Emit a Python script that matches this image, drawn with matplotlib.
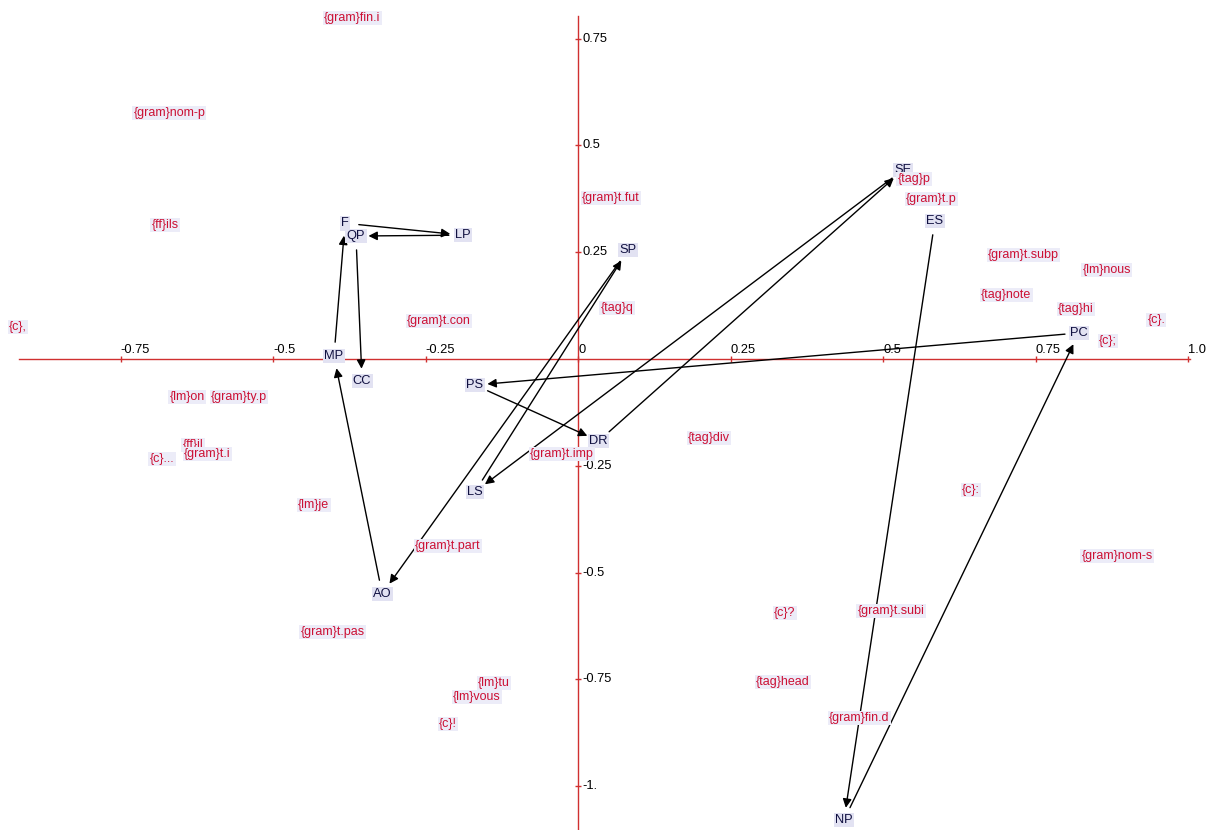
#!/usr/bin/env python3
"""Correspondence-analysis style map: category labels plus a path of arrows."""
import matplotlib
matplotlib.use('Agg')
import matplotlib.pyplot as plt

# trajectory points (navy labels), in path order
path_names = ['ES', 'NP', 'PC', 'PS', 'DR', 'SE', 'LS', 'SP', 'AO', 'MP',
              'F', 'LP', 'QP', 'CC']
path_x = [0.585, 0.436, 0.821, -0.169, 0.034, 0.533, -0.169, 0.082, -0.321,
          -0.400, -0.382, -0.189, -0.364, -0.354]
path_y = [0.323, -1.080, 0.061, -0.061, -0.192, 0.443, -0.311, 0.255, -0.550,
          0.007, 0.318, 0.290, 0.288, -0.052]

# variable labels (red)
var_names = ['{gram}fin.i', '{gram}nom-p', '{ff}ils', '{gram}t.fut', '{tag}p',
             '{gram}t.p', '{gram}t.subp', '{lm}nous', '{c},', '{lm}on',
             '{gram}ty.p', '{ff}il', '{gram}t.i', '{c}...', '{lm}je',
             '{gram}t.con', '{tag}q', '{gram}t.imp', '{tag}div',
             '{gram}t.part', '{tag}note', '{tag}hi', '{c}.', '{c};', '{c}:',
             '{gram}nom-s', '{gram}t.pas', '{lm}tu', '{lm}vous', '{c}!',
             '{c}?', '{gram}t.subi', '{tag}head', '{gram}fin.d']
var_x = [-0.370, -0.670, -0.677, 0.054, 0.551, 0.579, 0.730, 0.867, -0.918,
         -0.641, -0.556, -0.631, -0.608, -0.682, -0.433, -0.228, 0.064,
         -0.026, 0.215, -0.213, 0.702, 0.816, 0.948, 0.869, 0.644, 0.884,
         -0.402, -0.138, -0.166, -0.213, 0.339, 0.513, 0.336, 0.461]
var_y = [0.799, 0.576, 0.314, 0.377, 0.422, 0.375, 0.244, 0.208, 0.075,
         -0.089, -0.089, -0.201, -0.222, -0.234, -0.342, 0.089, 0.119,
         -0.222, -0.185, -0.438, 0.150, 0.117, 0.091, 0.042, -0.307, -0.461,
         -0.639, -0.759, -0.792, -0.855, -0.595, -0.590, -0.756, -0.841]

x_ticks = [-0.75, -0.5, -0.25, 0, 0.25, 0.5, 0.75, 1.0]
x_tick_labels = ['-0.75', '-0.5', '-0.25', '0', '0.25', '0.5', '0.75', '1.0']
y_ticks = [0.75, 0.5, 0.25, -0.25, -0.5, -0.75, -1.0]
y_tick_labels = ['0.75', '0.5', '0.25', '-0.25', '-0.5', '-0.75', '-1.']

axis_red = '#d03030'
var_red = '#cc1034'
navy = '#101040'

plt.rcParams['font.family'] = ['Liberation Sans', 'DejaVu Sans']

fig = plt.figure(figsize=(12.12, 8.30), dpi=100)
ax = fig.add_axes([0, 0, 1, 1])
ax.set_xlim(-578 / 610, (1212 - 578) / 610)
ax.set_ylim((359 - 830) / 427, 359 / 427)
ax.axis('off')

# axes through the origin
ax.plot([-0.916, 1.003], [0, 0], color=axis_red, lw=1, zorder=1)
ax.plot([0, 0], [0.803, -1.11], color=axis_red, lw=1, zorder=1)
ax.plot(x_ticks, [0] * len(x_ticks), '|', color=axis_red, ms=5, zorder=1)
ax.plot([0] * len(y_ticks), y_ticks, '_', color=axis_red, ms=5, zorder=1)
for t, lab in zip(x_ticks, x_tick_labels):
    ax.annotate(lab, (t, 0), xytext=(0, 2), textcoords='offset points',
                ha='left', va='bottom', fontsize=9.3, color='black')
for t, lab in zip(y_ticks, y_tick_labels):
    ax.annotate(lab, (0, t), xytext=(3, 0), textcoords='offset points',
                ha='left', va='center', fontsize=9.3, color='black')

# navy path labels
for name, x, y in zip(path_names, path_x, path_y):
    ax.text(x, y, name, ha='center', va='center', fontsize=9.3, color=navy,
            zorder=3,
            bbox=dict(boxstyle='square,pad=0.1', facecolor='#e2e2f2',
                      edgecolor='none'))

# red variable labels (drawn over the path labels, as in the original)
for name, x, y in zip(var_names, var_x, var_y):
    ax.text(x, y, name, ha='center', va='center', fontsize=9, color=var_red,
            zorder=4,
            bbox=dict(boxstyle='square,pad=0.1', facecolor='#ececf8',
                      edgecolor='none'))

# arrows along the path
for i in range(len(path_names) - 1):
    ax.annotate('', xy=(path_x[i + 1], path_y[i + 1]),
                xytext=(path_x[i], path_y[i]),
                arrowprops=dict(arrowstyle='-|>', color='black', lw=1,
                                mutation_scale=13, shrinkA=10, shrinkB=9),
                zorder=2)

fig.savefig('out.png', dpi=100)
